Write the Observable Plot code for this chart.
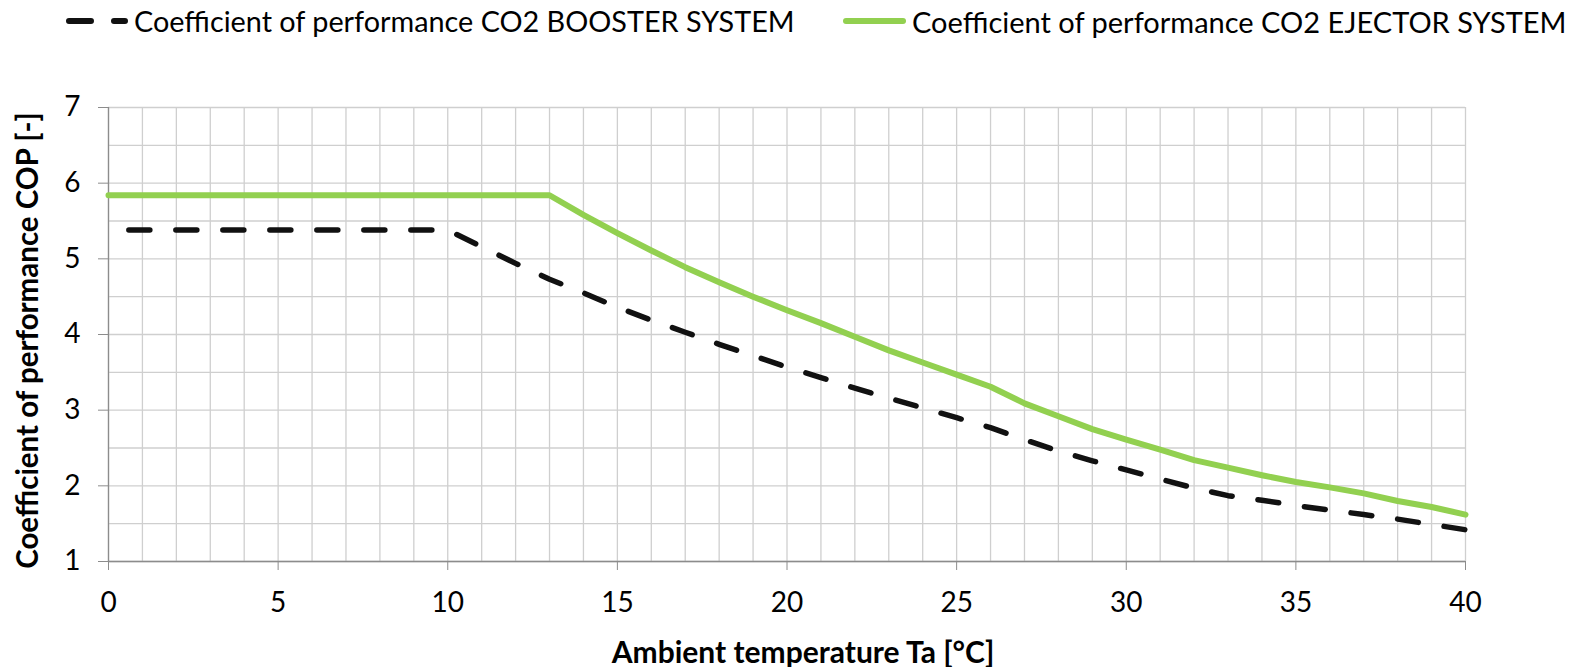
<!DOCTYPE html>
<html>
<head>
<meta charset="utf-8">
<script src="https://cdn.jsdelivr.net/npm/d3@7"></script>
<script src="https://cdn.jsdelivr.net/npm/@observablehq/plot@0.6"></script>
<style>
  html, body { margin: 0; padding: 0; background: #fff; }
  body { width: 1572px; height: 667px; overflow: hidden; font-family: Lato, "Open Sans", sans-serif; }
  #legend { display: block; }
  #chart svg { display: block; font-family: Lato, "Open Sans", sans-serif; }
</style>
</head>
<body>
<div id="legend"></div>
<div id="chart"></div>
<script>
// Data
const seriesNames = ["Coefficient of performance CO2 BOOSTER SYSTEM", "Coefficient of performance CO2 EJECTOR SYSTEM"];
const boosterTemp = [0.6, 10, 11, 12, 13, 14, 15, 16, 17, 18, 19, 20, 21, 22, 23, 24, 25, 26, 27, 28, 29, 30, 31, 32, 33, 34, 35, 36, 37, 38, 39, 40];
const boosterCOP  = [5.38, 5.38, 5.16, 4.94, 4.73, 4.55, 4.36, 4.19, 4.03, 3.87, 3.72, 3.57, 3.43, 3.29, 3.16, 3.03, 2.90, 2.77, 2.61, 2.46, 2.33, 2.21, 2.09, 1.97, 1.87, 1.81, 1.74, 1.68, 1.62, 1.56, 1.49, 1.42];
const ejectorTemp = [0, 13, 14, 15, 16, 17, 18, 19, 20, 21, 22, 23, 24, 25, 26, 27, 28, 29, 30, 31, 32, 33, 34, 35, 36, 37, 38, 39, 40];
const ejectorCOP  = [5.84, 5.84, 5.58, 5.34, 5.11, 4.89, 4.69, 4.50, 4.32, 4.15, 3.97, 3.79, 3.63, 3.47, 3.31, 3.09, 2.92, 2.75, 2.61, 2.48, 2.34, 2.24, 2.14, 2.05, 1.98, 1.90, 1.80, 1.72, 1.62];
const xTicks = [0, 5, 10, 15, 20, 25, 30, 35, 40];
const yTicks = [1, 2, 3, 4, 5, 6, 7];
const xGrid = d3.range(0, 41, 1);
const yGrid = d3.range(1, 7.001, 0.5);
const xTitle = "Ambient temperature Ta [°C]";
const yTitle = "Coefficient of performance COP [-]";

const booster = boosterTemp.map((t, i) => ({t, cop: boosterCOP[i]}));
const ejector = ejectorTemp.map((t, i) => ({t, cop: ejectorCOP[i]}));

const GREEN = "#92d050";
const BLACK = "#111";

// Legend (above the SVG)
const legendH = 44;
const lg = d3.select("#legend").append("svg").attr("width", 1572).attr("height", legendH);
lg.append("line").attr("x1", 69).attr("x2", 125).attr("y1", 21).attr("y2", 21)
  .attr("stroke", BLACK).attr("stroke-width", 6).attr("stroke-linecap", "round").attr("stroke-dasharray", "22 23");
lg.append("text").attr("x", 134).attr("y", 21).attr("dominant-baseline", "central")
  .attr("font-size", 28.8).attr("font-family", "Lato").text(seriesNames[0]);
lg.append("line").attr("x1", 846).attr("x2", 903).attr("y1", 21).attr("y2", 21)
  .attr("stroke", GREEN).attr("stroke-width", 6).attr("stroke-linecap", "round");
lg.append("text").attr("x", 912).attr("y", 21).attr("dominant-baseline", "central")
  .attr("font-size", 29).attr("font-family", "Lato").text(seriesNames[1]);

const H = 667 - legendH;
const chart = Plot.plot({
  width: 1572,
  height: H,
  marginTop: 104 - legendH,
  marginBottom: H - (558 - legendH),
  marginLeft: 108,
  marginRight: 107,
  x: {domain: [0, 40]},
  y: {domain: [1, 7]},
  style: {fontFamily: "Lato", fontSize: "28px", color: "#000", background: "#fff"},
  marks: [
    Plot.ruleX(xGrid, {stroke: "#cfcfcf", strokeWidth: 1.3}),
    Plot.ruleY(yGrid, {stroke: "#cfcfcf", strokeWidth: 1.3}),
    Plot.ruleX([0], {stroke: "#8c8c8c", strokeWidth: 1.3}),
    Plot.ruleY([1], {stroke: "#8c8c8c", strokeWidth: 1.3}),
    Plot.axisX({ticks: xTicks, tickSize: 9, tickPadding: 22, stroke: "#8c8c8c", fontSize: 28,
      label: null, tickFormat: d => String(d)}),
    Plot.axisY({ticks: yTicks, tickSize: 10, tickPadding: 18, stroke: "#8c8c8c", fontSize: 28,
      label: null, tickFormat: d => String(d)}),
    Plot.text([xTitle], {frameAnchor: "bottom", dx: 16, dy: 92, lineAnchor: "middle", textAnchor: "middle", fontSize: 30, fontWeight: "bold", fill: "#000"}),
    Plot.text([yTitle], {frameAnchor: "left", dx: -80, dy: 6, rotate: -90, lineAnchor: "middle", textAnchor: "middle", fontSize: 29.5, fontWeight: "bold", fill: "#000"}),
    Plot.line(booster, {x: "t", y: "cop", stroke: BLACK, strokeWidth: 5.5, strokeDasharray: "21 26", strokeLinecap: "round", strokeLinejoin: "round"}),
    Plot.line(ejector, {x: "t", y: "cop", stroke: GREEN, strokeWidth: 6, strokeLinejoin: "round"})
  ]
});
document.getElementById("chart").appendChild(chart);
</script>
</body>
</html>
